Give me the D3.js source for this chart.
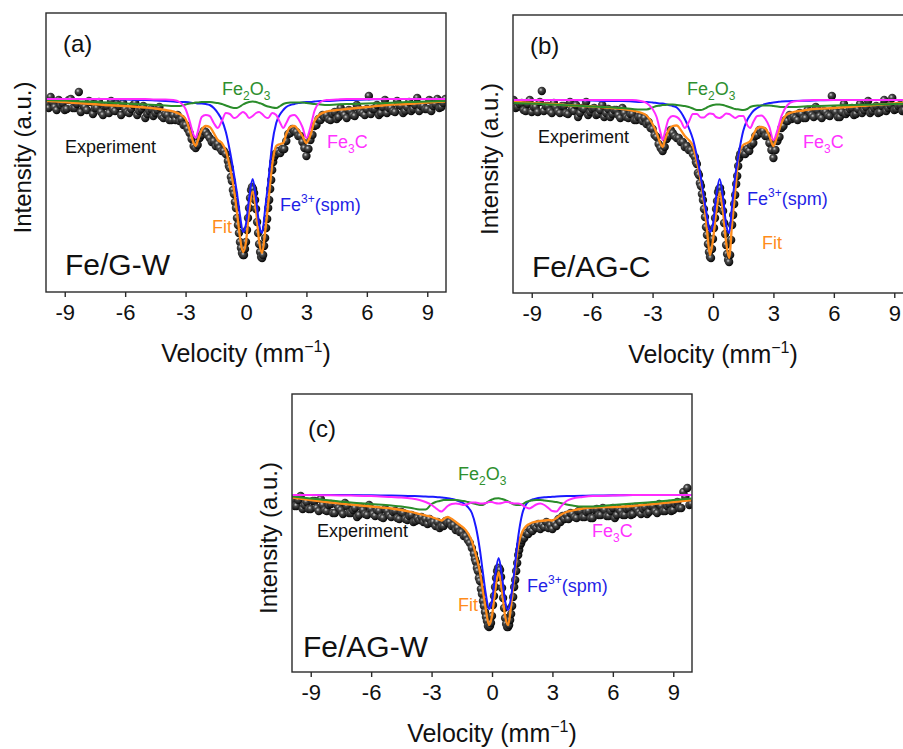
<!DOCTYPE html>
<html><head><meta charset="utf-8">
<script src="https://cdn.jsdelivr.net/npm/d3@7"></script>
<style>body{margin:0;background:#fff;overflow:hidden}svg{display:block}text{font-family:"Liberation Sans",Arial,sans-serif}</style>
</head><body><svg id="chart" width="903" height="749"></svg>
<script>
// ---------------- DATA ----------------
const velocityTicks = [-9, -6, -3, 0, 3, 6, 9];
const tickLabels = ["-9", "-6", "-3", "0", "3", "6", "9"];
const panelTags = ["(a)", "(b)", "(c)"];
const sampleNames = ["Fe/G-W", "Fe/AG-C", "Fe/AG-W"];

// velocity (mm/s) of the fitted-curve samples
const curveVelocity = [-9.9,-9,-8,-7,-6,-5,-4.5,-4,-3.6,-3.3,-3.0,-2.8,-2.6,-2.5,-2.4,-2.2,-2.0,-1.8,-1.6,-1.4,-1.2,-1.0,-0.8,-0.6,-0.45,-0.3,-0.15,0,0.15,0.33,0.5,0.65,0.8,0.95,1.1,1.3,1.5,1.7,1.85,2.0,2.2,2.4,2.6,2.8,3.0,3.2,3.4,3.7,4.0,4.5,5,6,7,8,9,9.9];

// velocity of the experimental channels
const expVelocity = [-9.9,-9.8,-9.7,-9.6,-9.5,-9.4,-9.3,-9.2,-9.1,-9.0,-8.9,-8.8,-8.7,-8.6,-8.5,-8.4,-8.3,-8.2,-8.1,-8.0,-7.9,-7.8,-7.7,-7.6,-7.5,-7.4,-7.3,-7.2,-7.1,-7.0,-6.9,-6.8,-6.7,-6.6,-6.5,-6.4,-6.3,-6.2,-6.1,-6.0,-5.9,-5.8,-5.7,-5.6,-5.5,-5.4,-5.3,-5.2,-5.1,-5.0,-4.9,-4.8,-4.7,-4.6,-4.5,-4.4,-4.3,-4.2,-4.1,-4.0,-3.9,-3.8,-3.7,
-3.6,-3.5,-3.4,-3.3,-3.2,-3.1,-3.0,-2.9,-2.8,-2.7,-2.6,-2.5,-2.4,-2.3,-2.2,-2.1,-2.0,-1.9,-1.8,-1.7,-1.6,-1.5,-1.4,-1.3,-1.2,-1.1,-1.0,-0.9,
-0.85,-0.8,-0.75,-0.7,-0.65,-0.6,-0.55,-0.5,-0.45,-0.4,-0.35,-0.3,-0.25,-0.2,-0.15,-0.1,-0.05,0,0.05,0.1,0.15,0.2,0.25,0.3,0.35,0.4,0.45,0.5,0.55,0.6,0.65,0.7,0.75,0.8,0.85,0.9,0.95,1.0,1.05,1.1,1.15,1.2,1.25,1.3,1.35,1.4,1.45,
1.5,1.6,1.7,1.8,1.9,2.0,2.1,2.2,2.3,2.4,2.5,2.6,2.7,2.8,2.9,3.0,3.1,3.2,3.3,3.4,3.5,3.6,3.7,3.8,3.9,
4.0,4.1,4.2,4.3,4.4,4.5,4.6,4.7,4.8,4.9,5.0,5.1,5.2,5.3,5.4,5.5,5.6,5.7,5.8,5.9,6.0,6.1,6.2,6.3,6.4,6.5,6.6,6.7,6.8,6.9,7.0,7.1,7.2,7.3,7.4,7.5,7.6,7.7,7.8,7.9,8.0,8.1,8.2,8.3,8.4,8.5,8.6,8.7,8.8,8.9,9.0,9.1,9.2,9.3,9.4,9.5,9.6,9.7,9.8,9.9];

// ---- panel (a) Fe/G-W ----
const expA = [995,991,1002,997,992,989,999,994,996,989,990,999,1000,991,991,995,1007,987,994,992,989,998,997,985,991,991,997,987,984,993,993,986,998,990,988,995,993,984,996,990,987,986,990,994,996,984,988,990,993,981,985,988,990,983,986,989,992,983,981,985,984,979,979,
984,979,984,978,980,974,974,970,966,960,953,951,954,961,964,968,967,964,961,957,958,953,955,951,948,948,945,938,
933,931,922,918,909,905,897,891,881,874,866,857,851,846,844,844,850,857,869,881,891,901,909,912,910,906,899,890,877,866,855,847,842,841,844,853,861,871,880,891,899,910,919,929,937,942,945,
945,948,946,950,950,958,965,966,970,968,967,963,963,957,951,943,950,959,964,973,974,980,979,984,982,
984,980,979,985,987,980,982,991,987,984,981,989,988,984,983,994,990,987,986,984,990,1003,985,990,990,994,984,986,992,999,986,991,991,988,987,998,994,993,986,988,992,997,988,990,994,1001,988,993,993,990,990,999,988,993,995,1000,991,992,996,1000];
const fitA = [998,997,995.5,994,993,991.5,990.5,989,987.5,985,980,969,956,953,958,969,973,972,966,959,956,948,932,910,887,862,847,857,887,907,888,858,846,867,895,934,953,955,956,965,972,973,969,963,956,964,978,985,987.5,989,990,992,994,995,996.5,997.3];
const spmA = [1000,1000,1000,1000,999.5,999,998.5,998,997.5,997,997,996.5,996,996,995.5,995.5,995,994,991,986,979,967,948,925,906,884,867,875,900,920,900,875,866,890,916,955,976,985,989,992,994,995,996,996.5,997,997,997.5,998,998,998.5,999,999.5,1000,1000,1000,1000];
const fe2o3A = [999,998.5,997.5,996.5,995.5,994.5,994,993.5,993,993,994.5,995.5,996,996.5,996.5,997,997,997,996.5,996,995,993.5,992,991,991,992.5,994.5,996,997,997.5,997,996,995,993.5,992.5,991.5,991,993,995,996,996.5,996.5,996.5,996.5,996,995.5,995,994.5,994,994.5,995,995.5,996,997,997.5,998];
const fe3cA = [1000,1000,1000,1000,1000,1000,999.5,999.5,999,997,990,978,964,961,967,982,984,983,976,971,978,986,985,981,982,985,987,985,981,983,986,987,985,982,981,986,984,976,971,976,983,984,980,972,961,972,988,997,999,999.5,1000,1000,1000,1000,1000,1000];

// ---- panel (b) Fe/AG-C ----
const expB = [1000,992,993,996,997,990,989,996,1000,988,993,993,988,998,1009,989,994,994,989,987,997,993,989,987,994,994,987,986,998,991,989,995,983,987,992,991,998,985,988,991,992,985,986,990,995,983,987,991,983,986,990,990,985,982,992,987,983,982,986,986,980,980,983,
983,979,982,976,978,972,971,965,963,956,952,949,953,961,964,970,967,964,962,962,958,958,953,954,950,950,946,943,
938,936,927,925,917,914,906,900,891,883,873,865,856,848,843,842,851,861,872,882,891,899,908,911,912,907,898,889,877,866,855,846,840,838,845,860,875,885,896,905,916,924,934,942,946,946,950,
947,946,951,949,955,957,964,965,970,967,969,964,964,957,950,942,950,959,963,972,974,980,979,985,981,
983,982,980,987,986,982,982,990,988,985,983,993,990,984,982,989,988,985,984,1004,990,988,983,983,988,996,986,988,991,992,985,986,991,996,987,990,993,999,987,989,992,994,987,988,994,1000,989,992,995,1002,990,991,994,995,989,990,995,999,991,993];
const fitB = [998,997,996,994.5,993.5,992,991,989.5,987.5,984.5,976,967,956,953,959,970,974,974.5,970,964,960,954,938,918,898,870,845,860,886,907,888,858,842,877,908,947,955,957,959,965,972,973,971.5,964,954,965,977,986,988,989.5,991,992,993.5,995,996.5,997.5];
const spmB = [1000,1000,1000,1000,999.5,999,999,998.5,998,998,997.5,997,996.5,996.5,996,995,994,992.5,988,981,972,961,944,922,902,884,868,876,902,921,902,876,867,895,923,949,969,980,985,989,992,994.5,996,997,997.5,998,998.5,998.8,999,999.2,999.5,1000,1000,1000,1000,1000];
const fe2o3B = [997,996.5,995.5,994.5,993.5,992.5,992,991,990.5,990.5,992.5,994,994.5,995,995,995.5,995.5,995,994.5,994,993,991.5,990,990,991,992.5,994,995,995.5,995.5,995,994,993,992,991,990.5,990,991,993,994,994.5,994.5,994.5,994.5,994,993.5,993,993,993,993.5,994,994.5,995,995.5,996,996.5];
const fe3cB = [1000,1000,1000,1000,1000,1000,1000,1000,999,997,991,983,967,960,967,981,984,983,979,972,978,986,986,982.5,982.5,985,986.5,986,983,982,984,986.5,986,984,982,984,984,975,972,978,984,984.5,981,973,960,970,984,995,998.5,999.5,1000,1000,1000,1000,1000,1000];

// ---- panel (c) Fe/AG-W ----
const expC = [995,989,989,995,999,986,990,993,986,986,994,994,987,984,996,990,985,984,990,991,982,982,990,987,985,981,992,989,982,982,985,987,978,980,988,985,981,980,990,986,981,979,985,984,978,977,986,984,980,978,983,984,977,976,983,982,976,975,979,980,973,974,977,
975,978,973,976,971,976,972,973,969,973,967,969,969,974,972,973,969,970,965,967,963,963,959,959,955,952,947,941,
936,933,927,924,917,914,906,901,894,889,883,878,874,869,868,869,872,879,890,899,908,917,924,927,927,925,918,907,897,887,877,871,868,868,870,875,881,889,898,908,915,924,932,940,945,950,952,
955,957,962,961,966,964,969,967,971,966,970,968,973,967,970,966,972,969,976,973,979,976,980,976,982,
981,978,977,984,984,978,978,983,984,977,977,985,986,980,980,987,985,979,979,984,987,977,980,986,984,980,980,986,987,980,981,988,986,983,981,986,988,981,983,989,989,984,982,991,989,984,984,989,991,984,985,991,993,987,987,1003,998,1007,990,991];
const fitC = [997.5,995,992.5,990.5,988.5,986.5,985,983,981,979.5,978,976.5,975,974.5,976,978,976,973,970,967,962,954,940,923,904,885,870,879,903,923,903,879,870,890,918,949,963,969,971,972.5,973.5,974,974.5,975,974.5,977,980,983,984.5,986.5,987.5,988,989,991,993,995];
const spmC = [1000,1000,1000,1000,999.7,999.5,999.3,999,998.8,998.5,998.2,998,997.7,997.5,997.3,996.8,996,995,993.5,991.5,988,982,968,945,922,900,886,894,918,937,918,894,885,898,922,958,981,991,994,995.5,996.5,997.2,997.7,998,998.2,998.5,998.7,998.9,999,999.2,999.4,999.7,1000,1000,1000,1000];
const fe2o3C = [998.5,996.5,994.5,992.5,991,989.5,988.5,987,985.5,985.5,991,993,994,994.5,995,995,995,995,994.5,994,993,992,991,990,990,992,994,995.5,996.5,996.7,996,995,993.5,992,990.5,990,990.5,993,994,994.5,995,995,994.5,994,993.5,993,992,990.5,989.5,988.5,988.5,990,991.5,993,995,996.5];
const fe3cC = [1000,1000,999.7,999.4,999,998,997.5,996.5,995,993,990,987,984,983.5,985,989,991,991.5,991,990,991,992.5,992.5,991.5,991.5,992,993,993,992,991.5,992,993,993,992,991.5,991.5,990,987.5,986.5,988,990.5,991.5,990,987,984,983.5,988,994,996.5,998,999,999.5,1000,1000,1000,1000];

// ---------------- LAYOUT / STYLE ----------------
const COLORS = {fit: "#ff8c1a", spm: "#1a1aff", fe2o3: "#2a8c2a", fe3c: "#ff2bff", frame: "#2a2a2a", text: "#111"};
const panels = [
  {frame: {x: 46, y: 13, w: 400, h: 279}, yDomain: [807, 1086], exp: expA, fit: fitA, spm: spmA, fe2o3: fe2o3A, fe3c: fe3cA,
   pos: {tag: [17, 39], name: [19, 262], fe2o3: [176, 82], experiment: [19, 140], fe3c: [281, 135], spm: [234, 198], fit: [166, 220]}},
  {frame: {x: 513, y: 15, w: 400, h: 278}, yDomain: [807, 1085], exp: expB, fit: fitB, spm: spmB, fe2o3: fe2o3B, fe3c: fe3cB,
   pos: {tag: [17, 39], name: [19, 262], fe2o3: [174, 80], experiment: [25, 128], fe3c: [290, 133], spm: [234, 190], fit: [249, 234]}},
  {frame: {x: 292, y: 394, w: 400, h: 278}, yDomain: [823, 1101], exp: expC, fit: fitC, spm: spmC, fe2o3: fe2o3C, fe3c: fe3cC,
   pos: {tag: [16, 43], name: [11, 263], fe2o3: [166, 86], experiment: [25, 143], fe3c: [300, 143], spm: [235, 198], fit: [166, 217]}}
];

const svg = d3.select("#chart");
const defs = svg.append("defs");
const grad = defs.append("radialGradient").attr("id", "ball").attr("cx", "38%").attr("cy", "35%").attr("r", "65%");
grad.append("stop").attr("offset", "0%").attr("stop-color", "#d2d2d2");
grad.append("stop").attr("offset", "32%").attr("stop-color", "#4a4a4a");
grad.append("stop").attr("offset", "100%").attr("stop-color", "#060606");

function rich(g, x, y, parts, size, color) {
  const t = g.append("text").attr("x", x).attr("y", y).attr("fill", color).attr("font-size", size);
  let shift = 0;
  parts.forEach(p => {
    const target = p.sub ? 5 : p.sup ? -8 : 0;
    t.append("tspan").attr("dy", target - shift).attr("font-size", (p.sub || p.sup) ? Math.round(size * 0.66) : size).text(p.t);
    shift = target;
  });
  return t;
}

panels.forEach((p, i) => {
  const f = p.frame;
  const g = svg.append("g").attr("transform", `translate(${f.x},${f.y})`);
  const x = d3.scaleLinear().domain([-9.93, 9.93]).range([0, f.w]);
  const y = d3.scaleLinear().domain(p.yDomain).range([f.h, 0]);

  defs.append("clipPath").attr("id", "clip" + i).append("rect").attr("width", f.w).attr("height", f.h);
  const plot = g.append("g").attr("clip-path", `url(#clip${i})`);

  // experimental points
  plot.append("g").selectAll("circle").data(expVelocity.map((v, k) => [v, p.exp[k]])).join("circle")
    .attr("cx", d => x(d[0])).attr("cy", d => y(d[1])).attr("r", 4.2).attr("fill", "url(#ball)");

  const line = d3.line().x(d => x(d[0])).y(d => y(d[1])).curve(d3.curveMonotoneX);
  const series = [["fit", p.fit, 2.3], ["spm", p.spm, 2], ["fe2o3", p.fe2o3, 2], ["fe3c", p.fe3c, 2]];
  series.forEach(([key, vals, w]) => {
    plot.append("path").datum(curveVelocity.map((v, k) => [v, vals[k]]))
      .attr("d", line).attr("fill", "none").attr("stroke", COLORS[key]).attr("stroke-width", w)
      .attr("stroke-linejoin", "round");
  });

  // frame
  g.append("rect").attr("width", f.w).attr("height", f.h).attr("fill", "none")
    .attr("stroke", COLORS.frame).attr("stroke-width", 1.4);

  // x axis
  const ax = g.append("g").attr("transform", `translate(0,${f.h})`)
    .call(d3.axisBottom(x).tickValues(velocityTicks).tickFormat((d, k) => tickLabels[k]).tickSize(5).tickPadding(7.5));
  ax.select(".domain").remove();
  ax.selectAll(".tick line").attr("stroke", COLORS.frame).attr("stroke-width", 1.4);
  ax.selectAll(".tick text").attr("font-size", 22).attr("fill", COLORS.text)
    .attr("font-family", '"Liberation Sans", Arial, sans-serif');

  // axis titles
  const xt = g.append("text").attr("x", f.w / 2).attr("y", f.h + 70).attr("text-anchor", "middle")
    .attr("font-size", 25).attr("fill", COLORS.text);
  xt.append("tspan").text("Velocity (mm");
  xt.append("tspan").attr("font-size", 16).attr("dy", -10).text("\u22121");
  xt.append("tspan").attr("dy", 10).text(")");

  g.append("text").attr("transform", `translate(-15,${f.h / 2 + 5}) rotate(-90)`).attr("text-anchor", "middle")
    .attr("font-size", 24).attr("fill", COLORS.text).text("Intensity (a.u.)");

  // labels
  const P = p.pos;
  g.append("text").attr("x", P.tag[0]).attr("y", P.tag[1]).attr("font-size", 24).attr("fill", COLORS.text).text(panelTags[i]);
  g.append("text").attr("x", P.name[0]).attr("y", P.name[1]).attr("font-size", 30).attr("fill", COLORS.text).text(sampleNames[i]);
  g.append("text").attr("x", P.experiment[0]).attr("y", P.experiment[1]).attr("font-size", 18).attr("fill", COLORS.text).text("Experiment");
  rich(g, P.fe2o3[0], P.fe2o3[1], [{t: "Fe"}, {t: "2", sub: true}, {t: "O"}, {t: "3", sub: true}], 18, "#2e8f2e");
  rich(g, P.fe3c[0], P.fe3c[1], [{t: "Fe"}, {t: "3", sub: true}, {t: "C"}], 18, "#ff33ff");
  rich(g, P.spm[0], P.spm[1], [{t: "Fe"}, {t: "3+", sup: true}, {t: "(spm)"}], 18, "#1f1fe6");
  g.append("text").attr("x", P.fit[0]).attr("y", P.fit[1]).attr("font-size", 18).attr("fill", "#ff8c1a").text("Fit");
});
</script>
</body></html>
